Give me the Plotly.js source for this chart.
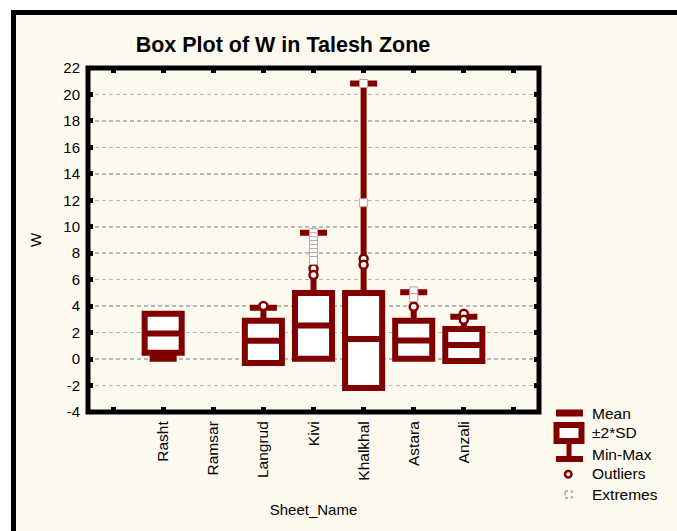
<!DOCTYPE html>
<html>
<head>
<meta charset="utf-8">
<script src="https://cdn.plot.ly/plotly-3.0.1.min.js"></script>
<style>
  html, body { margin: 0; padding: 0; background: #ffffff; }
  #chart { width: 677px; height: 531px; }
</style>
</head>
<body>
<div id="chart"></div>
<script>
// category slots on the x axis (first and last are empty)
const categories = ['', 'Rasht', 'Ramsar', 'Langrud', 'Kivi', 'Khalkhal', 'Astara', 'Anzali', ''];

// y tick values and labels (plain hyphen for negatives)
const yTicks = [-4, -2, 0, 2, 4, 6, 8, 10, 12, 14, 16, 18, 20, 22];
const yTickLabels = ['-4', '-2', '0', '2', '4', '6', '8', '10', '12', '14', '16', '18', '20', '22'];

// sites with data (Ramsar has none)
const sites = ['Rasht', 'Langrud', 'Kivi', 'Khalkhal', 'Astara', 'Anzali'];
const means = [1.94, 1.38, 2.53, 1.52, 1.40, 1.07];
const sdLow = [0.47, -0.29, 0.02, -2.18, 0.02, -0.14];   // mean - 2*SD
const sdHigh = [3.42, 2.89, 5.00, 5.00, 2.89, 2.28];     // mean + 2*SD
const minVals = [0.02, -0.29, 0.02, -2.18, 0.02, -0.14];
const maxVals = [3.42, 3.87, 9.55, 20.83, 5.05, 3.20];

const outlierSites = ['Langrud', 'Kivi', 'Kivi', 'Khalkhal', 'Khalkhal', 'Astara', 'Anzali', 'Anzali'];
const outlierVals = [4.02, 6.85, 6.35, 7.58, 7.13, 3.96, 3.42, 2.97];

const extremeSites = ['Kivi', 'Kivi', 'Kivi', 'Kivi', 'Kivi', 'Kivi', 'Kivi', 'Kivi',
                      'Khalkhal', 'Khalkhal', 'Astara', 'Astara'];
const extremeVals = [9.55, 9.25, 8.95, 8.65, 8.35, 8.05, 7.75, 7.45,
                     20.83, 11.82, 5.15, 4.65];

const legendLabels = ['Mean', '±2*SD', 'Min-Max', 'Outliers', 'Extremes'];

const maroon = '#800000';
const cream = '#fefaef';
const font = 'Arial, "Liberation Sans", sans-serif';

const pos = name => categories.indexOf(name);

const boxTrace = {
    type: 'box',
    x: sites.map(pos),
    q1: sdLow,
    median: means,
    q3: sdHigh,
    lowerfence: minVals,
    upperfence: maxVals,
    width: 0.74,
    whiskerwidth: 0.73,
    boxpoints: false,
    fillcolor: '#ffffff',
    line: { color: maroon, width: 6 },
    showlegend: false,
    hoverinfo: 'skip'
};

const outlierTrace = {
    type: 'scatter',
    mode: 'markers',
    x: outlierSites.map(pos),
    y: outlierVals,
    marker: { symbol: 'circle', size: 8, color: '#ffffff', line: { color: maroon, width: 2.5 } },
    showlegend: false
};

const extremeTrace = {
    type: 'scatter',
    mode: 'markers',
    x: extremeSites.map(pos),
    y: extremeVals,
    marker: { symbol: 'square', size: 8, color: '#ffffff', line: { color: '#d29a9a', width: 1 } },
    showlegend: false
};

// plot area in pixels, used to place the legend glyphs
const L = 88, R = 539, T = 68, B = 412;
const px = v => (v - L) / (R - L);
const py = v => (B - v) / (B - T);

const shapes = [
    // outer panel
    { type: 'rect', xref: 'paper', yref: 'paper', layer: 'below',
      x0: px(13.5), x1: px(700), y0: py(12.5), y1: py(560),
      fillcolor: cream, line: { color: '#000000', width: 5 } },
    // plot frame
    { type: 'rect', xref: 'paper', yref: 'paper',
      x0: 0, x1: 1, y0: 0, y1: 1,
      line: { color: '#000000', width: 5 } },
    // legend glyph: mean bar
    { type: 'line', xref: 'paper', yref: 'paper',
      x0: px(556), x1: px(583), y0: py(413), y1: py(413),
      line: { color: maroon, width: 7 } },
    // legend glyph: box
    { type: 'rect', xref: 'paper', yref: 'paper',
      x0: px(556.5), x1: px(581.5), y0: py(425), y1: py(441),
      fillcolor: '#ffffff', line: { color: maroon, width: 6 } },
    // legend glyph: whisker and cap
    { type: 'line', xref: 'paper', yref: 'paper',
      x0: px(569), x1: px(569), y0: py(441), y1: py(458),
      line: { color: maroon, width: 5 } },
    { type: 'line', xref: 'paper', yref: 'paper',
      x0: px(556), x1: px(583), y0: py(459), y1: py(459),
      line: { color: maroon, width: 6 } },
    // legend glyph: outlier
    { type: 'circle', xref: 'paper', yref: 'paper',
      x0: px(565), x1: px(571.5), y0: py(471), y1: py(477.5),
      fillcolor: '#ffffff', line: { color: maroon, width: 2.5 } },
    // legend glyph: extreme
    { type: 'rect', xref: 'paper', yref: 'paper',
      x0: px(565), x1: px(572), y0: py(491), y1: py(498),
      line: { color: '#b55a5a', width: 1, dash: 'dot' } }
];

const legendY = [413, 433, 454, 474, 494];
const annotations = legendLabels.map((t, i) => ({
    text: t, xref: 'paper', yref: 'paper',
    x: px(590), y: py(legendY[i]), xanchor: 'left', yanchor: 'middle',
    showarrow: false, font: { family: font, size: 15.5, color: '#000000' }
}));

const layout = {
    width: 677,
    height: 531,
    margin: { l: L, r: 677 - R, t: T, b: 531 - B, pad: 0 },
    paper_bgcolor: '#ffffff',
    plot_bgcolor: '#ffffff',
    font: { family: font, size: 15, color: '#000000' },
    showlegend: false,
    title: {
        text: '<b>Box Plot of W in Talesh Zone</b>',
        font: { family: font, size: 21.5, color: '#000000' },
        xref: 'container', yref: 'container',
        x: 283 / 677, y: 1 - 44 / 531, xanchor: 'center', yanchor: 'middle'
    },
    xaxis: {
        range: [-0.5, 8.5],
        tickmode: 'array',
        tickvals: categories.map((c, i) => i),
        ticktext: categories,
        tickangle: -90,
        ticks: 'inside', ticklen: 5, tickwidth: 5, tickcolor: '#000000',
        showline: true, linecolor: '#000000', linewidth: 1, mirror: 'allticks',
        showgrid: false, zeroline: false, automargin: false,
        tickfont: { family: font, size: 15.5 },
        ticklabelstandoff: 2,
        title: { text: 'Sheet_Name', standoff: 24, font: { family: font, size: 15 } }
    },
    yaxis: {
        range: [-4, 22],
        tickmode: 'array',
        tickvals: yTicks,
        ticktext: yTickLabels,
        ticks: 'inside', ticklen: 5, tickwidth: 5, tickcolor: '#000000',
        showline: true, linecolor: '#000000', linewidth: 1, mirror: 'allticks',
        showgrid: true, gridcolor: '#b8b8b8', gridwidth: 1.5, griddash: '4px,3px',
        zeroline: false, automargin: false,
        tickfont: { family: font, size: 15 },
        ticklabelstandoff: 4,
        title: { text: 'W', standoff: 18, font: { family: font, size: 15 } }
    },
    shapes: shapes,
    annotations: annotations
};

Plotly.newPlot('chart', [boxTrace, outlierTrace, extremeTrace], layout, { staticPlot: true });
</script>
</body>
</html>
